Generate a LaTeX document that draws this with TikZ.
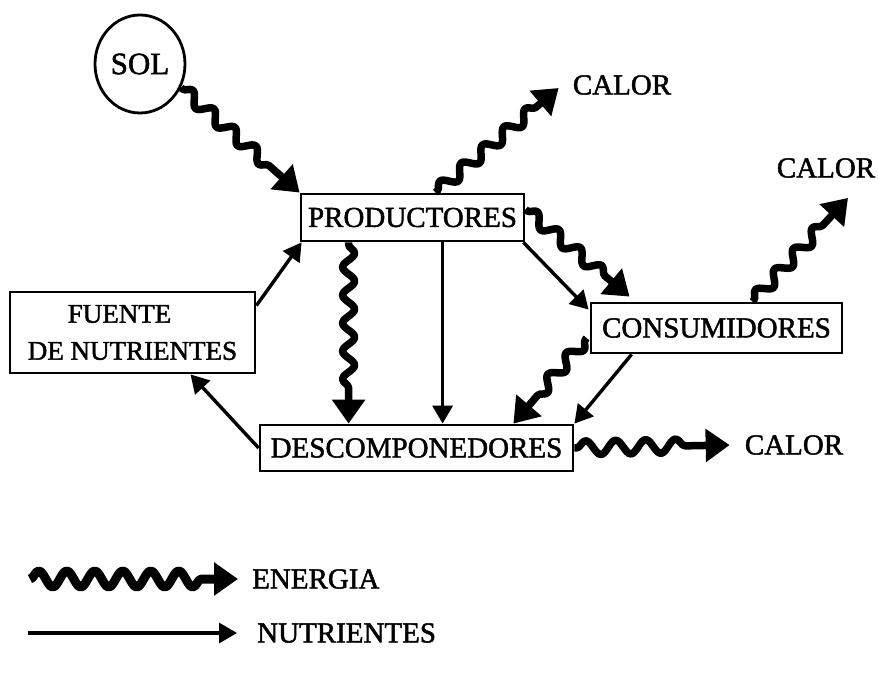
\documentclass[tikz,border=0pt]{standalone}
\usepackage{fontspec}
\setmainfont{Liberation Serif}[FakeBold=1.6]
\usetikzlibrary{arrows.meta,decorations.pathmorphing,calc,shapes.geometric}
\begin{document}
\begin{tikzpicture}[x=1pt,y=-1pt,
  box/.style={draw,line width=2.8pt,inner sep=0pt,font=\fontsize{29}{34}\selectfont},
  lbl/.style={inner sep=0pt,font=\fontsize{29}{34}\selectfont},
  energy/.style={line width=7.5pt,line join=round,decorate,
    decoration={snake,amplitude=6pt,segment length=28pt,post length=30pt,pre length=2pt},
    -{Triangle[length=24pt,width=32pt]}},
  energylegend/.style={energy,line width=9pt,
    decoration={snake,amplitude=8pt,segment length=28pt,post length=30pt,pre length=0pt}},
  nutr/.style={line width=3.4pt,-{Triangle[length=18pt,width=20pt]}}]
\path[use as bounding box] (0,0) rectangle (879,687);

% nodes
\node[box,ellipse,minimum width=90pt,minimum height=98pt,font=\fontsize{31}{36}\selectfont] (sol) at (140,64) {SOL};
\node[box,minimum width=223pt,minimum height=47pt] (prod) at (412.5,217.5) {PRODUCTORES};
\node[box,minimum width=251pt,minimum height=50pt] (cons) at (716.5,328) {CONSUMIDORES};
\node[box,minimum width=313pt,minimum height=46pt] (desc) at (416.5,448) {DESCOMPONEDORES};
\node[box,minimum width=245pt,minimum height=81pt,align=center,
      font=\fontsize{27}{37}\selectfont] (fuente) at (132.5,332.5) {FUENTE\hspace*{26pt}\\DE NUTRIENTES};

\node[lbl] (calorA) at (622,85) {CALOR};
\node[lbl] (calorB) at (826,168) {CALOR};
\node[lbl] (calorC) at (794,445) {CALOR};

\node[lbl,anchor=west] (energia) at (252,579) {ENERGIA};
\node[lbl,anchor=west] (nutrientes) at (257,633) {NUTRIENTES};
\coordinate (le) at (30,579);
\coordinate (ln) at (28,633);

% energy flows
\draw[energy] (sol.-30) -- (prod.north west);
\draw[energy] ($(prod.north)+(23,0)$) -- ($(calorA.west)+(-14,3)$);
\draw[energy] ($(prod.east)+(0,-8)$) -- ($(cons.north west)+(40,-5)$);
\draw[energy] ($(prod.south west)+(49,0)$) -- ($(desc.north west)+(90,0)$);
\draw[energy] ($(cons.west)+(-3,10)$) -- ($(desc.north east)+(-61,0)$);
\draw[energy] ($(cons.north)+(36,0)$) -- ($(calorB.south)+(22,20)$);
\draw[energy,decoration={snake,amplitude=7pt,segment length=30pt,post length=30pt,pre length=2pt}] (desc.east) -- ($(calorC.west)+(-15,0)$);

% nutrient flows
\draw[nutr] ($(prod.south east)+(-2,0)$) -- ($(cons.north west)+(-1,8)$);
\draw[nutr] ($(prod.south west)+(143,0)$) -- ($(desc.north west)+(184,0)$);
\draw[nutr] ($(cons.south west)+(42,0)$) -- (desc.north east);
\draw[nutr] ($(fuente.north east)+(0,15)$) -- ($(prod.south west)+(2,0)$);
\draw[nutr] (desc.west) -- ($(fuente.south)+(58,0)$);

% legend
\draw[energylegend] (le) -- ($(energia.west)+(-14,0)$);
\draw[nutr] (ln) -- ($(nutrientes.west)+(-20,0)$);
\end{tikzpicture}
\end{document}
